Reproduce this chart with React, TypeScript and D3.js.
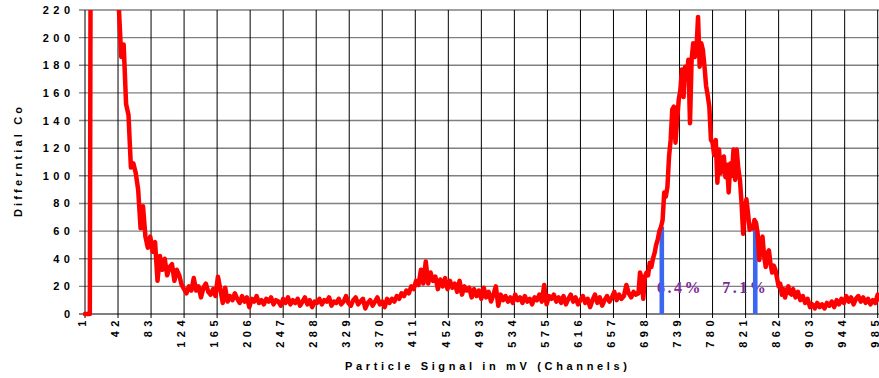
import React from 'react'
import * as d3 from 'd3'

// channel grid of the histogram: 3-channel steps, 2-channel steps across the main peak
const channels = [...d3.range(1, 688, 3), ...d3.range(688, 880, 2), ...d3.range(880, 1025, 3)]

// differential counts (values above 220 are off-chart)
const counts = [
  // 1..685 step 3
  0, 0, 0, 800, 760, 820, 780, 740, 700, 640,
  560, 480, 380, 300, 222, 186, 195, 152, 144, 106,
  109, 102, 90, 62, 78, 56, 48, 56, 45, 52,
  24, 42, 32, 40, 28, 34, 36, 24, 32, 28,
  21, 18, 15, 20, 17, 26, 17, 20, 12, 19,
  22, 16, 14, 18, 13, 27, 18, 8, 19, 9,
  13, 10, 15, 11, 8, 13, 9, 12, 5, 11,
  9, 13, 8, 10, 7, 11, 9, 12, 7, 10,
  9, 6, 11, 8, 12, 7, 10, 8, 11, 6,
  9, 12, 7, 10, 5, 9, 8, 11, 7, 10,
  9, 12, 6, 9, 8, 11, 7, 9, 13, 8,
  6, 10, 12, 7, 9, 11, 4, 8, 10, 6,
  9, 12, 7, 9, 5, 11, 8, 11, 9, 13,
  11, 15, 13, 17, 15, 20, 18, 24, 21, 32,
  22, 38, 22, 30, 24, 27, 18, 25, 20, 26,
  18, 24, 19, 22, 16, 24, 14, 20, 17, 19,
  12, 18, 13, 17, 11, 19, 12, 16, 9, 14,
  20, 6, 14, 10, 13, 9, 12, 8, 14, 10,
  12, 8, 13, 9, 11, 7, 12, 10, 14, 9,
  21, 7, 13, 11, 14, 9, 12, 8, 13, 7,
  11, 14, 9, 12, 7, 10, 13, 8, 11, 5,
  10, 14, 8, 12, 6, 10, 13, 9, 12, 16,
  10, 14, 11, 13, 21, 15, 12, 16, 14,
  // 688..878 step 2
  15, 30, 26, 11, 27, 30, 28, 37, 34, 40,
  44, 50, 54, 60, 63, 68, 88, 85, 92, 114,
  126, 148, 150, 124, 140, 155, 162, 177, 157, 179,
  172, 184, 138, 184, 196, 186, 191, 215, 179, 196,
  191, 179, 165, 158, 150, 126, 124, 115, 126, 95,
  119, 102, 110, 114, 99, 108, 88, 109, 100, 119,
  97, 119, 105, 97, 80, 58, 75, 83, 73, 61,
  64, 62, 68, 66, 58, 39, 52, 56, 42, 34,
  44, 46, 36, 30, 35, 32, 26, 20, 22, 14,
  18, 12, 17, 20, 15, 14,
  // 880..1024 step 3
  18, 12, 16, 10, 13, 8, 11, 5, 7, 4,
  8, 5, 7, 4, 8, 6, 9, 5, 10, 7,
  11, 8, 13, 9, 12, 7, 11, 13, 9, 12,
  8, 11, 7, 10, 8, 14, 10, 12, 9, 11,
  8, 12, 10, 9, 11, 8, 10, 9, 7,
]

const yTicks = [0, 20, 40, 60, 80, 100, 120, 140, 160, 180, 200, 220]
const xTickLabels = [1, 42, 83, 124, 165, 206, 247, 288, 329, 370, 411, 452, 493, 534, 575, 616, 657, 698, 739, 780, 821, 862, 903, 944, 985]

const markerChannels = [717, 833]
const markerValues = [63, 67]
const markerLabels = ['6.4%', '7.1%']
const markerLabelChannels = [711, 792]

const W = 879
const H = 378
const font = '"Liberation Sans", Arial, sans-serif'

export default function App() {
  const x = d3.scaleLinear().domain([1, 985]).range([85, 877.7])
  const y = d3.scaleLinear().domain([0, 220]).range([314, 10])

  const pts: [number, number][] = channels.map((c, i) => [c, counts[i]])
  const line = d3.line<[number, number]>().x(d => x(d[0])).y(d => y(d[1]))

  return (
    <div style={{ position: 'absolute', left: 0, top: 0 }}>
      <svg width={W} height={H} style={{ display: 'block', background: '#fff' }}>
        <defs>
          <clipPath id="plot">
            <rect x={83} y={y(220)} width={W - 83} height={y(0) - y(220) + 4} />
          </clipPath>
        </defs>

        {/* horizontal grid */}
        {yTicks.map(t => (
          <line key={'h' + t} x1={79} x2={W} y1={y(t)} y2={y(t)} stroke={t === 0 ? '#000' : '#808080'} strokeWidth={t === 0 ? 1 : 1.4} />
        ))}
        {/* vertical grid + ticks */}
        {xTickLabels.map(t => (
          <line key={'v' + t} x1={x(t)} x2={x(t)} y1={y(220)} y2={y(0) + 4} stroke="#000" strokeWidth={1} />
        ))}

        {/* y tick labels */}
        {yTicks.map(t => (
          <text key={'yl' + t} x={74.5} y={y(t) + 4} textAnchor="end" fontFamily={font} fontWeight="bold" fontSize={11} style={{ letterSpacing: '4.5px' }} fill="#000">
            {t}
          </text>
        ))}
        {/* x tick labels */}
        {xTickLabels.map(t => (
          <text key={'xl' + t} transform={`translate(${x(t) + 1.2},316) rotate(-90)`} textAnchor="end" fontFamily={font} fontWeight="bold" fontSize={11} style={{ letterSpacing: '4.5px' }} fill="#000">
            {t}
          </text>
        ))}

        {/* axis titles */}
        <text transform="translate(22,162) rotate(-90)" textAnchor="middle" fontFamily={font} fontWeight="bold" fontSize={11} textLength={110} lengthAdjust="spacing" fill="#000">
          Differntial Co
        </text>
        <text x={486} y={370} textAnchor="middle" fontFamily={font} fontWeight="bold" fontSize={11} textLength={282} lengthAdjust="spacing" fill="#000">
          Particle Signal in mV (Channels)
        </text>

        {/* percentage labels */}
        {markerLabels.map((l, i) => (
          <text key={'ml' + i} x={x(markerLabelChannels[i])} y={y(15)} fontFamily='"Liberation Serif", "Times New Roman", serif' fontWeight="bold" fontSize={16} style={{ letterSpacing: '2.5px' }} fill="#7b2a96">
            {l}
          </text>
        ))}

        {/* marker bars */}
        {markerChannels.map((c, i) => (
          <rect key={'mb' + i} x={x(c) - 2.3} y={y(markerValues[i])} width={4.6} height={y(0) - y(markerValues[i])} fill="#3b66f0" />
        ))}

        <path d={line(pts) ?? ''} fill="none" stroke="#ff0000" strokeWidth={4.5} strokeLinejoin="round" strokeLinecap="round" clipPath="url(#plot)" />
      </svg>
    </div>
  )
}
